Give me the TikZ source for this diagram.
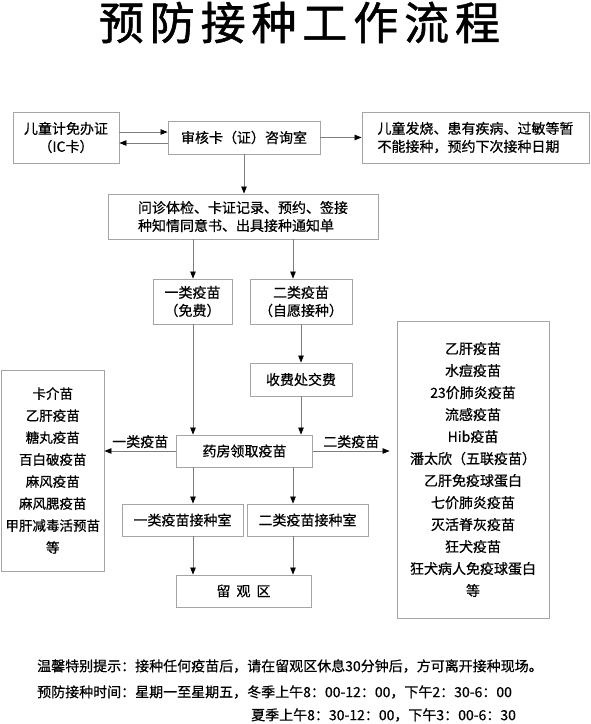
\documentclass[tikz,border=0pt]{standalone}
\usepackage{fontspec}
\setmainfont{Noto Sans CJK SC}[FakeBold=0.6]
\newfontfamily\titlefont[LetterSpace=13, FakeBold=1.2]{Noto Sans CJK SC}
\usetikzlibrary{arrows.meta, positioning}
\definecolor{boxgray}{RGB}{165, 165, 165}
\definecolor{linegray}{RGB}{125, 125, 125}

\begin{document}
\begin{tikzpicture}[x=1pt, y=-1pt,
    stepbox/.style={draw=boxgray, line width=0.9pt, align=center, inner sep=0pt, font=\fontsize{14}{18}\selectfont},
    listbox/.style={stepbox, font=\fontsize{14}{22}\selectfont},
    flow/.style={draw=linegray, line width=0.8pt, -{Triangle[length=7pt, width=5.5pt, color=black]}},
    tag/.style={inner sep=0pt, font=\fontsize{14}{18}\selectfont},
    note/.style={inner sep=0pt, anchor=west, font=\fontsize{14}{18}\selectfont}]
                \useasboundingbox (0,0) rectangle (590,724);

                % Title
                \node[font=\titlefont\fontsize{45}{50}\selectfont] (title) at (299.5,22.5) {预防接种工作流程};

                % Registration row
                \node[stepbox, minimum width=106pt, minimum height=51pt] (card) at (66,137.5) {儿童计免办证\\（IC卡）};
                \node[stepbox, minimum width=152pt, minimum height=33pt] (check) at (244,137.5) {审核卡（证）咨询室};
                \node[stepbox, align=left, minimum width=227pt, minimum height=51pt] (defer) at (475.5,137.5) {儿童发烧、患有疾病、过敏等暂\\不能接种，预约下次接种日期};

                % Consultation
                \node[stepbox, align=left, minimum width=270pt, minimum height=45pt] (consult) at (243,216.5) {问诊体检、卡证记录、预约、签接\\种知情同意书、出具接种通知单};

                % Vaccine classes
                \node[stepbox, minimum width=79pt, minimum height=45pt] (free) at (192.5,301.5) {一类疫苗\\（免费）};
                \node[stepbox, minimum width=102pt, minimum height=45pt] (paid) at (301,301.5) {二类疫苗\\（自愿接种）};
                \node[stepbox, minimum width=102pt, minimum height=33pt] (cashier) at (301,379.5) {收费处交费};
                \node[stepbox, minimum width=136pt, minimum height=32pt] (pharmacy) at (244.5,451) {药房领取疫苗};

                % Vaccine lists
                \node[listbox, font=\fontsize{13.5}{22}\selectfont, minimum width=102.5pt, minimum height=201pt] (list1) at (52.75,470.5)
                    {卡介苗\\乙肝疫苗\\糖丸疫苗\\百白破疫苗\\麻风疫苗\\麻风腮疫苗\\甲肝减毒活预苗\\等};
                \node[listbox, minimum width=152pt, minimum height=297pt] (list2) at (473,469.5)
                    {乙肝疫苗\\水痘疫苗\\23价肺炎疫苗\\流感疫苗\\Hib疫苗\\潘太欣（五联疫苗）\\乙肝免疫球蛋白\\七价肺炎疫苗\\灭活脊灰疫苗\\狂犬疫苗\\狂犬病人免疫球蛋白\\等};

                % Injection rooms
                \node[stepbox, minimum width=121pt, minimum height=32pt] (room1) at (182.5,520) {一类疫苗接种室};
                \node[stepbox, minimum width=121pt, minimum height=32pt] (room2) at (307.5,520) {二类疫苗接种室};
                \node[stepbox, minimum width=135pt, minimum height=32pt] (observe) at (243.5,591) {留\hspace{6pt}观\hspace{6pt}区};

                % Columns
                \coordinate (colA) at (193,0);
                \coordinate (colB) at (293,0);

                % Connectors
                \draw[flow] ([yshift=5.5pt]card.east) -- ([yshift=5.5pt]check.west);
                \draw[flow] ([yshift=-5.5pt]check.west) -- ([yshift=-5.5pt]card.east);
                \draw[flow] (check.east) -- (defer.west);
                \draw[flow] (check.south) -- (check.south |- consult.north);
                \draw[flow] (colA |- consult.south) -- (colA |- free.north);
                \draw[flow] (colB |- consult.south) -- (colB |- paid.north);
                \draw[flow] (colA |- free.south) -- (colA |- pharmacy.north);
                \draw[flow] (paid.south) -- (cashier.north);
                \draw[flow] (cashier.south) -- (cashier.south |- pharmacy.north);
                \draw[flow] (pharmacy.west) -- (pharmacy.west -| list1.east) node[tag, midway, above=2.5pt] {一类疫苗};
                \draw[flow] (pharmacy.east) -- ([xshift=-7pt]pharmacy.east -| list2.west) node[tag, midway, above=2.5pt] {二类疫苗};
                \draw[flow] (colA |- pharmacy.south) -- (colA |- room1.north);
                \draw[flow] (colB |- pharmacy.south) -- (colB |- room2.north);
                \draw[flow] (colA |- room1.south) -- (colA |- observe.north);
                \draw[flow] (colB |- room2.south) -- (colB |- observe.north);

                % Notes
                \node[note] (tip) at (37,666) {温馨特别提示：接种任何疫苗后，请在留观区休息30分钟后，方可离开接种现场。};
                \node[note] (hours) at (37,692) {预防接种时间：星期一至星期五，冬季上午8：00-12：00，下午2：30-6：00};
                \node[note] (summer) at (251,715) {夏季上午8：30-12：00，下午3：00-6：30};
\end{tikzpicture}
\end{document}
